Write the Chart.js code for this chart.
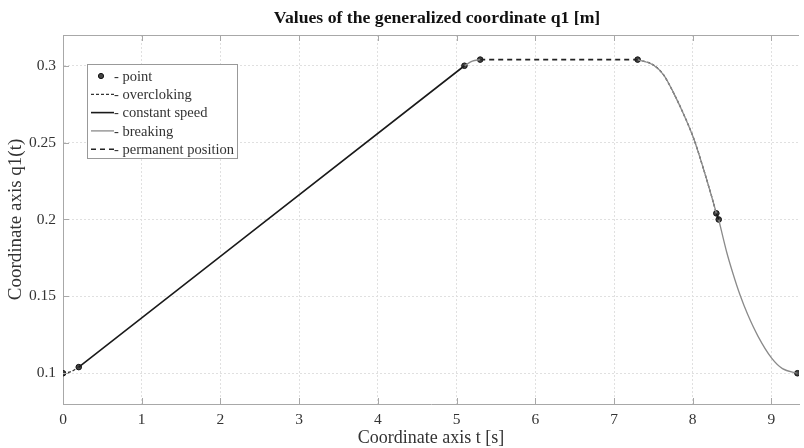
<!DOCTYPE html>
<html>
<head>
<meta charset="utf-8">
<script src="https://cdn.jsdelivr.net/npm/chart.js@4/dist/chart.umd.min.js"></script>
<style>
  body { margin: 0; background: #fff; }
  #wrap { position: relative; width: 804px; height: 448px; }
</style>
</head>
<body>
<div id="wrap"><canvas id="chart"></canvas></div>
<script>
// values: t [s] and q1 [m]
const accel1T = [0, 0.1, 0.2];
const accel1Q = [0.1, 0.101, 0.104];
const const1T = [0.2, 5.1];
const const1Q = [0.104, 0.3];
const brake1T = [5.1, 5.2, 5.3];
const brake1Q = [0.3, 0.303, 0.304];
const holdT = [5.3, 7.3];
const holdQ = [0.304, 0.304];
const accel2T = [7.3, 7.5, 7.63, 7.75, 7.88, 8.01, 8.13, 8.24, 8.3];
const accel2Q = [0.304, 0.3005, 0.294, 0.283, 0.269, 0.253, 0.234, 0.215, 0.204];
const const2T = [8.3, 8.33];
const const2Q = [0.204, 0.2];
const brake2T = [8.33, 8.43, 8.51, 8.6, 8.7, 8.83, 9.0, 9.14, 9.33];
const brake2Q = [0.2, 0.179, 0.165, 0.151, 0.138, 0.124, 0.11, 0.103, 0.1];
const pointT = [0, 0.2, 5.1, 5.3, 7.3, 8.3, 8.33, 9.33];
const pointQ = [0.1, 0.104, 0.3, 0.304, 0.304, 0.204, 0.2, 0.1];

const xTicks = [0, 1, 2, 3, 4, 5, 6, 7, 8, 9];
const yTicks = [0.1, 0.15, 0.2, 0.25, 0.3];

const legendLabels = ["point", "overcloking", "constant speed", "breaking", "permanent position"];

const FONT = "'Liberation Serif', 'Times New Roman', serif";
const TEXT = "#333";

const styles = {
    accel: { borderColor: "#333", borderWidth: 1.3, borderDash: [3, 2] },
    constant: { borderColor: "#1a1a1a", borderWidth: 1.6, borderDash: [] },
    brake: { borderColor: "#8a8a8a", borderWidth: 1.3, borderDash: [] },
    hold: { borderColor: "#222", borderWidth: 1.6, borderDash: [5, 4] }
};

function pairs(ts, qs) {
    return ts.map((t, i) => ({ x: t, y: qs[i] }));
}

function lineSet(ts, qs, style) {
    return Object.assign({
        data: pairs(ts, qs),
        showLine: true,
        pointRadius: 0,
        fill: false,
        cubicInterpolationMode: "monotone"
    }, style);
}

// legend index -> dataset index
const legendMap = [7, 0, 1, 2, 3];

const frame = {
    id: "frame",
    afterDraw(chart) {
        const ctx = chart.ctx;
        const a = chart.chartArea;
        const xs = chart.scales.x, ys = chart.scales.y;
        ctx.save();

        // box and inner ticks
        ctx.strokeStyle = "#a8a8a8";
        ctx.lineWidth = 1;
        ctx.beginPath();
        ctx.moveTo(a.left, a.top + 0.5);
        ctx.lineTo(a.right, a.top + 0.5);
        xTicks.forEach(v => {
            const px = Math.round(xs.getPixelForValue(v)) + 0.5;
            ctx.moveTo(px, a.bottom);
            ctx.lineTo(px, a.bottom - 6);
            ctx.moveTo(px, a.top);
            ctx.lineTo(px, a.top + 6);
        });
        yTicks.forEach(v => {
            const py = Math.round(ys.getPixelForValue(v)) + 0.5;
            ctx.moveTo(a.left, py);
            ctx.lineTo(a.left + 6, py);
        });
        ctx.stroke();

        // title
        ctx.fillStyle = "#111";
        ctx.font = "bold 17.7px " + FONT;
        ctx.textAlign = "center";
        ctx.textBaseline = "middle";
        ctx.fillText("Values of the generalized coordinate q1 [m]", (a.left + a.right) / 2 + 6, 18);

        // legend box
        const bx = 87, by = 64, bw = 150, bh = 94;
        ctx.fillStyle = "#fff";
        ctx.fillRect(bx, by, bw, bh);
        ctx.strokeStyle = "#999";
        ctx.strokeRect(bx + 0.5, by + 0.5, bw, bh);

        ctx.font = "14.5px " + FONT;
        ctx.textAlign = "left";
        legendLabels.forEach((label, i) => {
            const y = by + 12 + i * 18.3;
            const ds = chart.data.datasets[legendMap[i]];
            if (i === 0) {
                ctx.beginPath();
                ctx.arc(101, y, 2.6, 0, Math.PI * 2);
                ctx.fillStyle = ds.backgroundColor;
                ctx.fill();
                ctx.strokeStyle = ds.borderColor;
                ctx.lineWidth = 1;
                ctx.stroke();
                ctx.fillStyle = TEXT;
                ctx.fillText("- " + label, 114, y + 1);
            } else {
                ctx.beginPath();
                ctx.strokeStyle = ds.borderColor;
                ctx.lineWidth = ds.borderWidth;
                ctx.setLineDash(ds.borderDash || []);
                ctx.moveTo(91, y);
                ctx.lineTo(114, y);
                ctx.stroke();
                ctx.setLineDash([]);
                ctx.fillStyle = TEXT;
                ctx.fillText("- " + label, 114, y + 1);
            }
        });
        ctx.restore();
    }
};

new Chart(document.getElementById("chart"), {
    type: "scatter",
    data: {
        datasets: [
            lineSet(accel1T, accel1Q, styles.accel),
            lineSet(const1T, const1Q, styles.constant),
            lineSet(brake1T, brake1Q, styles.brake),
            lineSet(holdT, holdQ, styles.hold),
            lineSet(accel2T, accel2Q, styles.brake),
            lineSet(const2T, const2Q, styles.constant),
            lineSet(brake2T, brake2Q, styles.brake),
            {
                data: pairs(pointT, pointQ),
                showLine: false,
                pointRadius: 2.8,
                pointBackgroundColor: "#444",
                backgroundColor: "#444",
                pointBorderColor: "#111",
                borderColor: "#111",
                pointBorderWidth: 1
            },
            lineSet(accel2T, accel2Q, styles.accel)
        ]
    },
    options: {
        responsive: true,
        maintainAspectRatio: false,
        animation: false,
        layout: { padding: { top: 35, right: 1, left: 0, bottom: 0 } },
        plugins: {
            legend: { display: false },
            tooltip: { enabled: false }
        },
        scales: {
            x: {
                type: "linear",
                min: 0,
                max: 9.35,
                afterFit: s => { s.height = 44; },
                afterBuildTicks: s => { s.ticks = xTicks.map(v => ({ value: v })); },
                grid: { color: "#e0e0e0", drawTicks: false },
                border: { color: "#a8a8a8", dash: [2, 2] },
                ticks: {
                    padding: 7,
                    color: TEXT,
                    font: { family: FONT, size: 15.5 },
                    callback: v => String(v)
                },
                title: {
                    display: true,
                    text: "Coordinate axis t [s]",
                    color: TEXT,
                    font: { family: FONT, size: 18 },
                    padding: { top: 0, bottom: -1 }
                }
            },
            y: {
                type: "linear",
                min: 0.08,
                max: 0.32,
                afterFit: s => { s.width = 63; },
                afterBuildTicks: s => { s.ticks = yTicks.map(v => ({ value: v })); },
                grid: { color: "#e0e0e0", drawTicks: false },
                border: { color: "#a8a8a8", dash: [2, 2] },
                ticks: {
                    padding: 7,
                    color: TEXT,
                    font: { family: FONT, size: 15.5 },
                    callback: v => String(v)
                },
                title: {
                    display: true,
                    text: "Coordinate axis q1(t)",
                    color: TEXT,
                    font: { family: FONT, size: 19 },
                    padding: { top: 5, bottom: 0 }
                }
            }
        }
    },
    plugins: [frame]
});
</script>
</body>
</html>
